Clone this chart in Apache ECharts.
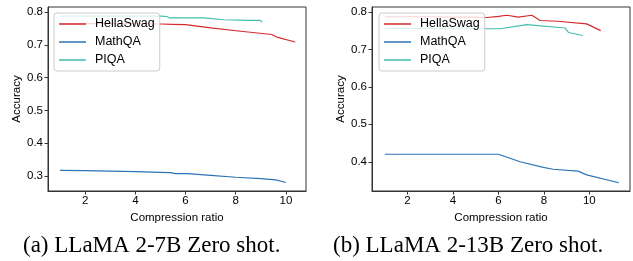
<!DOCTYPE html>
<html>
<head>
<meta charset="utf-8">
<script src="https://cdn.jsdelivr.net/npm/echarts@6/dist/echarts.min.js"></script>
<style>html,body{margin:0;padding:0;background:#fff}#c{width:633px;height:261px}</style>
</head>
<body>
<div id="c"></div>
<script>
// ---- data ----
const seriesNames = ['HellaSwag', 'MathQA', 'PIQA'];
const xTicks = [2, 4, 6, 8, 10];
const yTicksA = [0.3, 0.4, 0.5, 0.6, 0.7, 0.8];
const yTicksB = [0.4, 0.5, 0.6, 0.7, 0.8];
const captionA = '(a) LLaMA 2-7B Zero shot.';
const captionB = '(b) LLaMA 2-13B Zero shot.';
const axisXName = 'Compression ratio';
const axisYName = 'Accuracy';

// LLaMA 2-7B
const hellaA_x = [1, 2, 3, 4, 5, 5.5, 6, 7, 8.2, 9.44, 9.67, 10.37];
const hellaA_y = [0.765, 0.765, 0.765, 0.765, 0.764, 0.763, 0.762, 0.752, 0.742, 0.732, 0.723, 0.709];
const mathA_x = [1, 2, 3, 4, 5, 5.4, 5.6, 6.1, 7, 8, 9, 9.6, 10];
const mathA_y = [0.317, 0.316, 0.315, 0.313, 0.311, 0.310, 0.307, 0.307, 0.302, 0.296, 0.292, 0.288, 0.280];
const piqaA_x = [1, 2, 3, 4, 5, 5.25, 5.35, 6, 6.75, 7.5, 8.5, 8.98, 9.05];
const piqaA_y = [0.788, 0.788, 0.788, 0.788, 0.788, 0.787, 0.783, 0.783, 0.783, 0.777, 0.775, 0.775, 0.770];

// LLaMA 2-13B
const hellaB_x = [1, 2, 3, 4, 5, 5.5, 6, 6.37, 6.88, 7.47, 7.83, 8.6, 9.88, 10.5];
const hellaB_y = [0.787, 0.787, 0.787, 0.786, 0.786, 0.785, 0.788, 0.791, 0.786, 0.791, 0.777, 0.775, 0.768, 0.750];
const mathB_x = [1, 2, 3, 4, 5, 6, 6.95, 7.98, 8.4, 9.5, 9.88, 11.3];
const mathB_y = [0.420, 0.420, 0.420, 0.420, 0.420, 0.420, 0.400, 0.385, 0.380, 0.375, 0.365, 0.344];
const piqaB_x = [1, 2, 3, 4, 5, 6.07, 7.25, 8.93, 9.08, 9.71];
const piqaB_y = [0.756, 0.756, 0.756, 0.755, 0.755, 0.755, 0.766, 0.757, 0.745, 0.737];

const colors = { HellaSwag: '#d62a2e', MathQA: '#2b74b6', PIQA: '#40bdae' };

const zip = (xs, ys) => xs.map((x, i) => [x, ys[i]]);
const font = 'Liberation Sans, Arial, sans-serif';
const axisColor = '#333';

function xAxisCfg(gi, min, max) {
  return {
    type: 'value', gridIndex: gi, min: min, max: max,
    name: axisXName, nameLocation: 'middle', nameGap: 16,
    nameTextStyle: { fontFamily: font, fontSize: 11.5, color: '#000' },
    axisLine: { show: true, lineStyle: { color: axisColor, width: 1 } },
    axisTick: { show: true, length: 3.5, customValues: xTicks, lineStyle: { color: axisColor } },
    axisLabel: { customValues: xTicks, margin: 4, fontFamily: font, fontSize: 11.5, color: '#000' },
    splitLine: { show: false }
  };
}
function yAxisCfg(gi, min, max, ticks, gap) {
  return {
    type: 'value', gridIndex: gi, min: min, max: max,
    name: axisYName, nameLocation: 'middle', nameGap: gap, nameRotate: 90,
    nameTextStyle: { fontFamily: font, fontSize: 11.5, color: '#000' },
    axisLine: { show: true, lineStyle: { color: axisColor, width: 1 } },
    axisTick: { show: true, length: 3.5, customValues: ticks, lineStyle: { color: axisColor } },
    axisLabel: { customValues: ticks, margin: 5, fontFamily: font, fontSize: 11.5, color: '#000',
                 formatter: v => v.toFixed(1) },
    splitLine: { show: false }
  };
}
function line(name, data, gi) {
  return {
    type: 'line', name: name, xAxisIndex: gi, yAxisIndex: gi, data: data,
    showSymbol: false, symbol: 'none', smooth: false,
    lineStyle: { color: colors[name], width: 1.2 },
    itemStyle: { color: colors[name] }, z: 2
  };
}
function legendCfg(left) {
  return {
    orient: 'vertical', left: left, top: 13,
    data: seriesNames, icon: 'rect', itemWidth: 27, itemHeight: 1.5, itemGap: 0,
    padding: [2, 5, 2, 5],
    textStyle: { fontFamily: font, fontSize: 12.5, color: '#000', lineHeight: 18, padding: [0, 0, 0, 4] },
    backgroundColor: 'rgba(255,255,255,0.8)', borderColor: '#cccccc', borderWidth: 1, borderRadius: 3,
    selectedMode: false, z: 10
  };
}

const chart = echarts.init(document.getElementById('c'), null, { renderer: 'canvas' });
chart.setOption({
  animation: false,
  backgroundColor: '#fff',
  grid: [
    { left: 48, top: 7, width: 258, height: 184, show: true, borderColor: axisColor, borderWidth: 1, backgroundColor: 'transparent' },
    { left: 372, top: 7, width: 258, height: 184, show: true, borderColor: axisColor, borderWidth: 1, backgroundColor: 'transparent' }
  ],
  xAxis: [xAxisCfg(0, 0.52, 10.8), xAxisCfg(1, 0.435, 11.79)],
  yAxis: [yAxisCfg(0, 0.254, 0.816, yTicksA, 23), yAxisCfg(1, 0.322, 0.813, yTicksB, 20)],
  legend: [legendCfg(54), legendCfg(379)],
  series: [
    line('HellaSwag', zip(hellaA_x, hellaA_y), 0),
    line('MathQA', zip(mathA_x, mathA_y), 0),
    line('PIQA', zip(piqaA_x, piqaA_y), 0),
    line('HellaSwag', zip(hellaB_x, hellaB_y), 1),
    line('MathQA', zip(mathB_x, mathB_y), 1),
    line('PIQA', zip(piqaB_x, piqaB_y), 1)
  ],
  graphic: [
    { type: 'text', left: 23, top: 234, style: { text: captionA, font: '23px "Liberation Serif", "Times New Roman", serif', fill: '#000' } },
    { type: 'text', left: 333, top: 234, style: { text: captionB, font: '23px "Liberation Serif", "Times New Roman", serif', fill: '#000' } }
  ]
});
</script>
</body>
</html>
